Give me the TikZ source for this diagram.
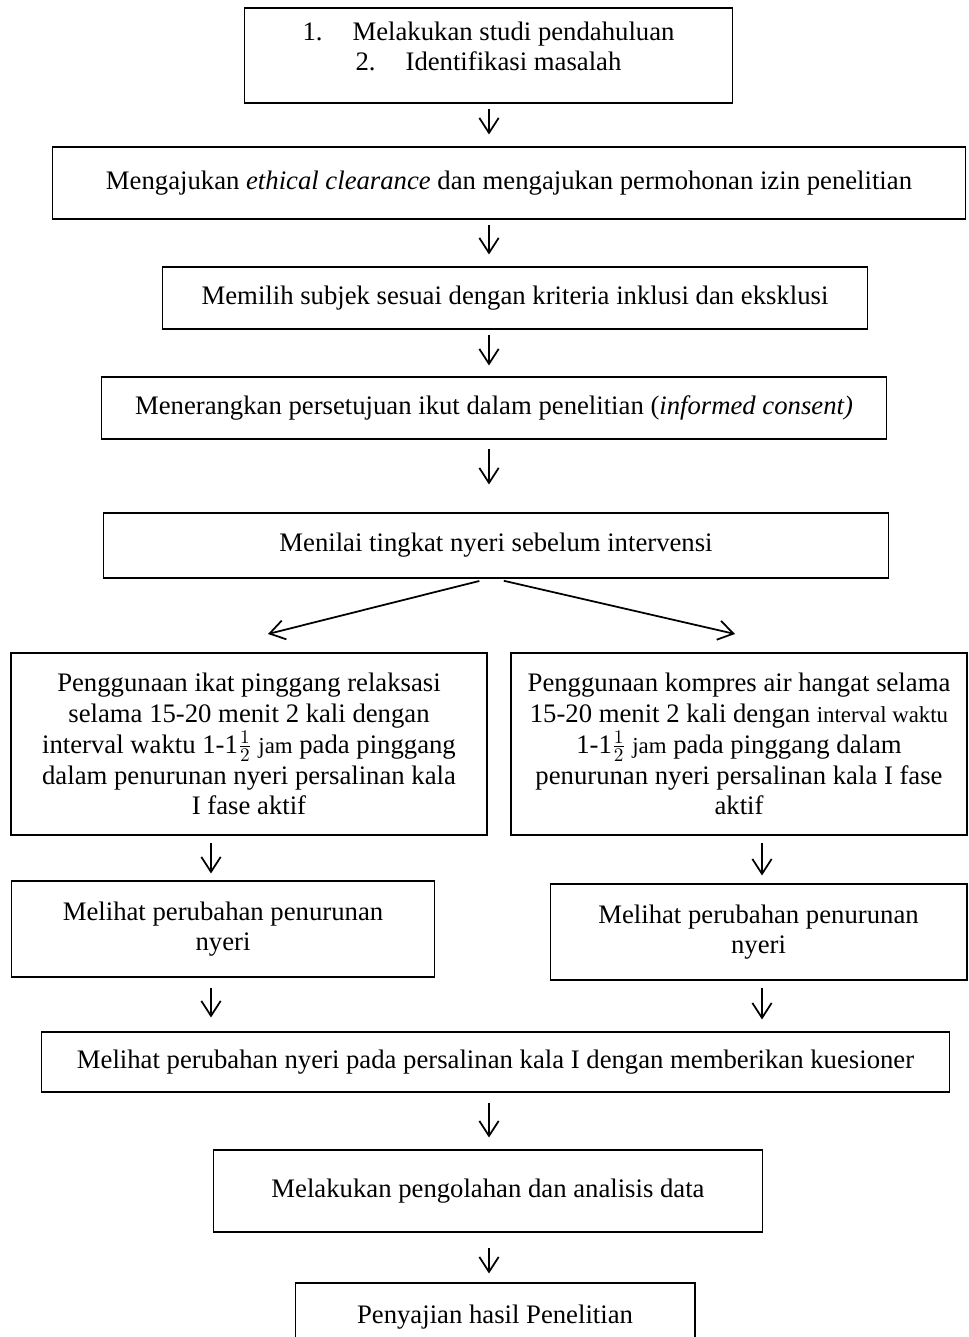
\documentclass[tikz,border=0pt]{standalone}
\usepackage{fontspec}
\setmainfont{Liberation Serif}
\usetikzlibrary{arrows.meta}

\begin{document}
\begin{tikzpicture}[x = 0.02cm, y = -0.02cm,
flowbox/.style = { draw, align = center, inner sep = 0pt, line width = 0.6pt,
  font = \fontsize{15.2}{17}\selectfont},
flowbox_thick/.style = { flowbox, line width = 1.4pt, font = \fontsize{15.2}{17.6}\selectfont },
arc_down/.style = { -{Straight Barb[length = 8.5pt, width = 11pt]}, line width = 1pt }]
\useasboundingbox (0,0) rectangle (968,1337);
\clip (0,0) rectangle (968,1337);
% main column
\coordinate (mid) at (489,0);
\coordinate (lft) at (211,0);
\coordinate (rgt) at (762,0);
\node[flowbox, minimum width = 9.78cm, minimum height = 1.9cm, text depth = 0.38cm] (b1) at (488.5,55.5)
  {1.\hspace{0.6cm}Melakukan studi pendahuluan\\ 2.\hspace{0.6cm}Identifikasi masalah};
\node[flowbox, minimum width = 18.28cm, minimum height = 1.44cm] (b2) at (509,183)
  {Mengajukan \textit{ethical clearance} dan mengajukan permohonan izin penelitian};
\node[flowbox, minimum width = 14.12cm, minimum height = 1.24cm] (b3) at (515,298)
  {Memilih subjek sesuai dengan kriteria inklusi dan eksklusi};
\node[flowbox, minimum width = 15.72cm, minimum height = 1.24cm] (b4) at (494,408)
  {Menerangkan persetujuan ikut dalam penelitian (\textit{informed consent)}};
\node[flowbox, minimum width = 15.72cm, minimum height = 1.3cm] (b5) at (496,545.5)
  {Menilai tingkat nyeri sebelum intervensi};
% two branches
\node[flowbox_thick, minimum width = 9.52cm, minimum height = 3.64cm] (b6l) at (249,744)
  {Penggunaan ikat pinggang relaksasi\\ selama 15-20 menit 2 kali dengan\\
   interval waktu 1-1\smash{$\frac{1}{2}$} {\fontsize{13}{17}\selectfont jam} pada pinggang\\
   dalam penurunan nyeri persalinan kala\\ I fase aktif};
\node[flowbox_thick, minimum width = 9.12cm, minimum height = 3.64cm] (b6r) at (739,744)
  {Penggunaan kompres air hangat selama\\
   15-20 menit 2 kali dengan {\fontsize{13}{17}\selectfont interval waktu}\\
   1-1\smash{$\frac{1}{2}$} {\fontsize{13}{17}\selectfont jam} pada pinggang dalam\\
   penurunan nyeri persalinan kala I fase\\ aktif};
\node[flowbox, minimum width = 8.48cm, minimum height = 1.92cm] (b7l) at (223,929)
  {Melihat perubahan penurunan\\ nyeri};
\node[flowbox, minimum width = 8.34cm, minimum height = 1.92cm] (b7r) at (758.5,932)
  {Melihat perubahan penurunan\\ nyeri};
% joined again
\node[flowbox, minimum width = 18.18cm, minimum height = 1.2cm] (b8) at (495.5,1062)
  {Melihat perubahan nyeri pada persalinan kala I dengan memberikan kuesioner};
\node[flowbox, minimum width = 11cm, minimum height = 1.64cm] (b9) at (488,1191)
  {Melakukan pengolahan dan analisis data};
\node[flowbox, minimum width = 8cm, minimum height = 1.8cm, text depth = 0.55cm] (b10) at (495,1328)
  {Penyajian hasil Penelitian};
% arrows
\draw[arc_down, shorten < = 0.1cm, shorten > = 0.24cm] (b1.south -| mid) -- (b2.north -| mid);
\draw[arc_down, shorten < = 0.1cm, shorten > = 0.24cm] (b2.south -| mid) -- (b3.north -| mid);
\draw[arc_down, shorten < = 0.1cm, shorten > = 0.22cm] (b3.south -| mid) -- (b4.north -| mid);
\draw[arc_down, shorten < = 0.18cm, shorten > = 0.56cm] (b4.south -| mid) -- (b5.north -| mid);
\coordinate (fl) at (268,634);
\coordinate (fr) at (735,634);
\draw[arc_down, shorten < = 0.2cm] (b5.south -| mid) -- (fl);
\draw[arc_down, shorten < = 0.2cm] ([xshift = 0.1cm]b5.south -| mid) -- (fr);
\draw[arc_down, shorten < = 0.14cm, shorten > = 0.14cm] (b6l.south -| lft) -- (b7l.north -| lft);
\draw[arc_down, shorten < = 0.14cm, shorten > = 0.16cm] (b6r.south -| rgt) -- (b7r.north -| rgt);
\draw[arc_down, shorten < = 0.2cm, shorten > = 0.28cm] (b7l.south -| lft) -- (b8.north -| lft);
\draw[arc_down, shorten < = 0.14cm, shorten > = 0.24cm] (b7r.south -| rgt) -- (b8.north -| rgt);
\draw[arc_down, shorten < = 0.2cm, shorten > = 0.24cm] (b8.south -| mid) -- (b9.north -| mid);
\draw[arc_down, shorten < = 0.3cm, shorten > = 0.18cm] (b9.south -| mid) -- (b10.north -| mid);
\end{tikzpicture}
\end{document}
